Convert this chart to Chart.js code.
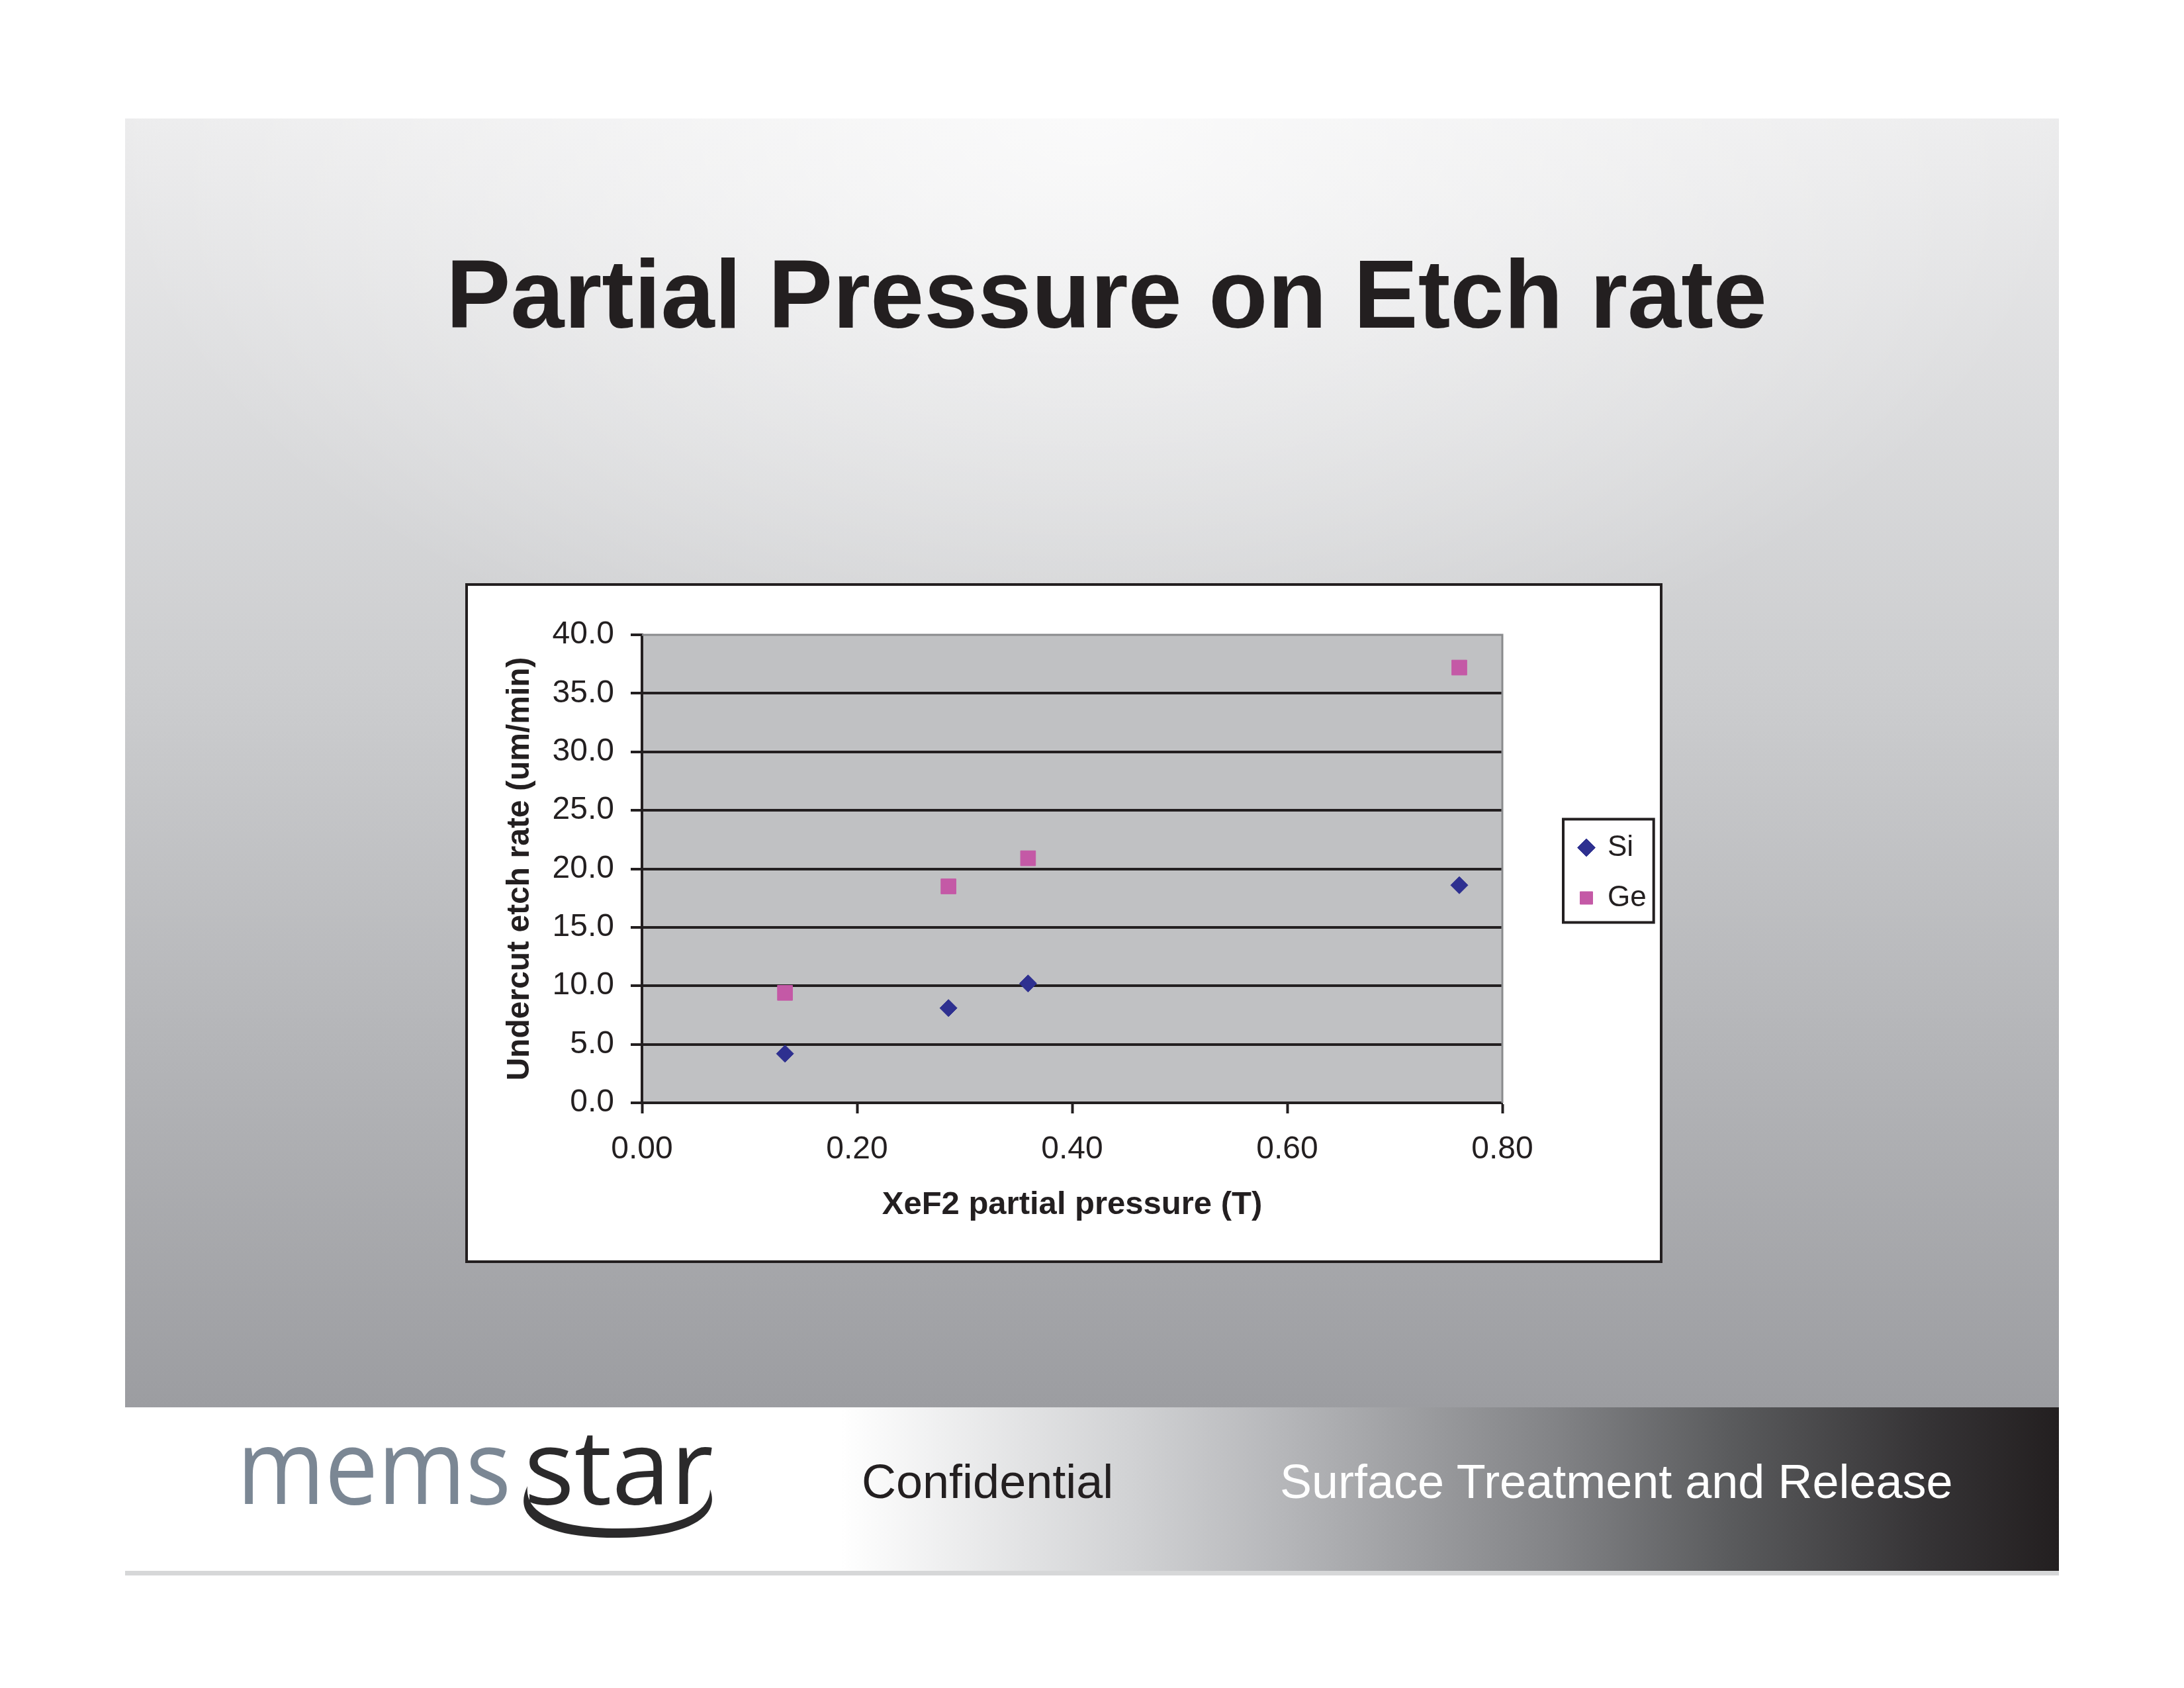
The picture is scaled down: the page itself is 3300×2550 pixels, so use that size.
<!DOCTYPE html>
<html lang="en">
  <head>
    <meta charset="UTF-8" />
    <title>Partial Pressure on Etch rate</title>
    <script src="https://cdn.jsdelivr.net/npm/chart.js"></script>
    <style>
      html,
      body {
        margin: 0;
        padding: 0;
        background: #ffffff;
      }
      body {
        width: 3300px;
        height: 2550px;
        position: relative;
        overflow: hidden;
        font-family: "Liberation Sans", Arial, sans-serif;
      }
      #slide {
        position: absolute;
        left: 0;
        top: 0;
      }
      .chart-box {
        position: absolute;
        left: 703px;
        top: 881px;
        width: 1809px;
        height: 1027px;
        box-sizing: border-box;
        background: #ffffff;
        border: 4px solid #231f20;
      }
      #etchChart {
        display: block;
      }
    </style>
  </head>
  <body>
    <svg id="slide" width="3300" height="2550" viewBox="0 0 3300 2550">
      <defs>
        <linearGradient id="bgFade" x1="0" y1="0" x2="0" y2="1">
          <stop offset="0" stop-color="#ececed" />
          <stop offset="0.45" stop-color="#cbccce" />
          <stop offset="1" stop-color="#9c9da1" />
        </linearGradient>
        <radialGradient id="bgGlow" gradientUnits="userSpaceOnUse" cx="1650" cy="180" r="1500"
          gradientTransform="translate(1650 180) scale(1 0.6) translate(-1650 -180)">
          <stop offset="0" stop-color="#ffffff" stop-opacity="0.75" />
          <stop offset="1" stop-color="#ffffff" stop-opacity="0" />
        </radialGradient>
        <linearGradient id="footFade" gradientUnits="userSpaceOnUse" x1="189" y1="0" x2="3111" y2="0">
          <stop offset="0" stop-color="#ffffff" />
          <stop offset="0.37" stop-color="#ffffff" />
          <stop offset="0.52" stop-color="#d1d2d4" />
          <stop offset="0.60" stop-color="#b5b6b9" />
          <stop offset="0.74" stop-color="#828386" />
          <stop offset="0.83" stop-color="#5a5b5d" />
          <stop offset="0.93" stop-color="#363436" />
          <stop offset="1" stop-color="#231f20" />
        </linearGradient>
      </defs>

      <!-- slide body -->
      <rect x="189" y="179" width="2922" height="1947" fill="url(#bgFade)" />
      <rect x="189" y="179" width="2922" height="1947" fill="url(#bgGlow)" />

      <text x="1672" y="495" text-anchor="middle" font-family="Liberation Sans, Arial, sans-serif"
        font-weight="bold" font-size="146" fill="#231f20">Partial Pressure on Etch rate</text>

      <!-- footer band -->
      <rect x="189" y="2126" width="2922" height="247" fill="url(#footFade)" />
      <rect x="189" y="2373" width="2922" height="7" fill="#d6d7d8" />

      <text x="358" y="2272" font-family="Open Sans, Noto Sans, sans-serif" font-size="158"
        fill="#7b8794" textLength="414" lengthAdjust="spacingAndGlyphs">mems</text>
      <text x="792" y="2272" font-family="Open Sans, Noto Sans, sans-serif" font-size="158"
        fill="#2b2a2b" textLength="286" lengthAdjust="spacingAndGlyphs">star</text>
      <path d="M 797 2245 C 770 2300, 840 2324, 935 2323 C 1030 2322, 1090 2295, 1073 2250
               C 1072 2288, 1020 2309, 935 2309 C 850 2309, 792 2290, 797 2245 Z" fill="#2b2a2b" />

      <text x="1302" y="2263" font-family="Liberation Sans, Arial, sans-serif" font-size="72"
        fill="#231f20">Confidential</text>
      <text x="1934" y="2263" font-family="Liberation Sans, Arial, sans-serif" font-size="72"
        fill="#ffffff">Surface Treatment and Release</text>
    </svg>

    <div class="chart-box">
      <canvas id="etchChart" width="1801" height="1019"></canvas>
    </div>

    <script>
      // XeF2 partial pressure (T), same for both materials
      const pressure = [0.133, 0.285, 0.359, 0.76];
      // undercut etch rate (um/min)
      const siRate = [4.2, 8.1, 10.2, 18.6];
      const geRate = [9.4, 18.5, 20.9, 37.2];

      const seriesNames = ["Si", "Ge"];
      const yTicks = { min: 0, max: 40, step: 5 };
      const xTicks = { min: 0, max: 0.8, step: 0.2 };

      const ink = "#231f20";
      const plotGray = "#c0c1c3";
      const edgeGray = "#8a8b8d";

      function toPoints(xs, ys) {
        return xs.map((x, i) => ({ x: x, y: ys[i] }));
      }

      Chart.defaults.font.family = '"Liberation Sans", Arial, sans-serif';
      Chart.defaults.color = ink;

      // grey plot background plus the grey top/right frame
      const plotFrame = {
        id: "plotFrame",
        beforeDraw(chart) {
          const { ctx, chartArea: a } = chart;
          ctx.save();
          ctx.fillStyle = plotGray;
          ctx.fillRect(a.left, a.top, a.right - a.left, a.bottom - a.top);
          ctx.restore();
        },
        beforeDatasetsDraw(chart) {
          const { ctx, chartArea: a } = chart;
          ctx.save();
          ctx.strokeStyle = edgeGray;
          ctx.lineWidth = 3;
          ctx.beginPath();
          ctx.moveTo(a.left, a.top);
          ctx.lineTo(a.right, a.top);
          ctx.lineTo(a.right, a.bottom);
          ctx.stroke();
          ctx.restore();
        },
      };

      // legend sits to the right of the plot, inside a black frame
      const legendSpot = {
        id: "legendSpot",
        afterLayout(chart) {
          const lg = chart.legend;
          const w = lg.width;
          lg.left = chart.chartArea.right + 85;
          lg.right = lg.left + w;
          lg.top += 80;
          lg.bottom += 80;
        },
        afterDraw(chart) {
          const boxes = chart.legend.legendHitBoxes;
          if (!boxes || !boxes.length) return;
          let l = Infinity, r = -Infinity, t = Infinity, b = -Infinity;
          boxes.forEach((h) => {
            l = Math.min(l, h.left);
            r = Math.max(r, h.left + h.width);
            t = Math.min(t, h.top);
            b = Math.max(b, h.top + h.height);
          });
          const ctx = chart.ctx;
          ctx.save();
          ctx.strokeStyle = ink;
          ctx.lineWidth = 4;
          ctx.strokeRect(l - 25, t - 21, r - l + 36, b - t + 36);
          ctx.restore();
        },
      };

      const ctx = document.getElementById("etchChart").getContext("2d");
      const chart = new Chart(ctx, {
        type: "scatter",
        data: {
          datasets: [
            {
              label: seriesNames[0],
              data: toPoints(pressure, siRate),
              pointStyle: "rectRot",
              pointRadius: 13,
              backgroundColor: "#2e3090",
              borderColor: "#2e3090",
              borderWidth: 1,
            },
            {
              label: seriesNames[1],
              data: toPoints(pressure, geRate),
              pointStyle: "rect",
              pointRadius: 16,
              backgroundColor: "#c459a6",
              borderColor: "#c459a6",
              borderWidth: 1,
            },
          ],
        },
        options: {
          responsive: false,
          animation: false,
          devicePixelRatio: 1,
          layout: {
            padding: { left: 0, top: 74, right: 238, bottom: 0 },
          },
          plugins: {
            tooltip: { enabled: false },
            legend: {
              position: "chartArea",
              align: "center",
              labels: {
                usePointStyle: true,
                boxWidth: 20,
                boxHeight: 19,
                padding: 32,
                color: ink,
                font: { size: 44 },
              },
            },
          },
          scales: {
            x: {
              type: "linear",
              min: xTicks.min,
              max: xTicks.max,
              afterFit(scale) {
                scale.height = 238;
              },
              ticks: {
                stepSize: xTicks.step,
                padding: 26,
                color: ink,
                font: { size: 48 },
                callback: (v) => v.toFixed(2),
              },
              grid: {
                drawOnChartArea: false,
                tickLength: 16,
                tickWidth: 4,
                tickColor: ink,
              },
              border: { display: true, color: ink, width: 4 },
              title: {
                display: true,
                text: "XeF2 partial pressure (T)",
                color: ink,
                font: { size: 49, weight: "bold" },
                padding: { top: 0, bottom: 54 },
              },
            },
            y: {
              min: yTicks.min,
              max: yTicks.max,
              afterFit(scale) {
                scale.width = 263;
              },
              ticks: {
                stepSize: yTicks.step,
                padding: 25,
                color: ink,
                font: { size: 48 },
                callback: (v) => v.toFixed(1),
              },
              grid: {
                color: (c) => (c.tick && c.tick.value === yTicks.max ? "rgba(0,0,0,0)" : ink),
                lineWidth: 4,
                tickLength: 17,
                tickWidth: 4,
                tickColor: ink,
              },
              border: { display: true, color: ink, width: 4 },
              title: {
                display: true,
                text: "Undercut etch rate (um/min)",
                color: ink,
                font: { size: 48, weight: "bold" },
                padding: { top: 50, bottom: 0 },
              },
            },
          },
        },
        plugins: [plotFrame, legendSpot],
      });
    </script>
  </body>
</html>
